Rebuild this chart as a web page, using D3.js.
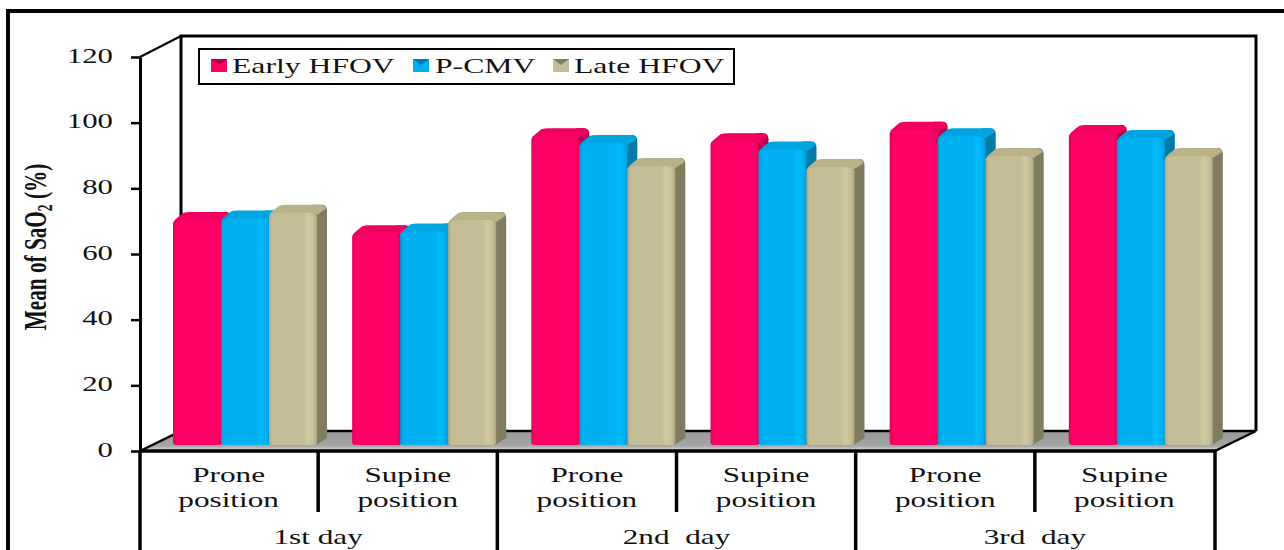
<!DOCTYPE html>
<html>
<head>
<meta charset="utf-8">
<style>
  html, body { margin: 0; padding: 0; background: #fff; }
  svg { display: block; }
  text { font-family: "Liberation Serif", serif; fill: #111; }
</style>
<script src="https://cdn.jsdelivr.net/npm/d3@7"></script>
</head>
<body>
<svg id="chart" width="1284" height="550"></svg>
<script>
// SaO2 means by day, position and ventilation strategy
const days = ["1st day", "2nd  day", "3rd  day"];
const positions = ["Prone position", "Supine position"];
const seriesNames = ["Early HFOV", "P-CMV", "Late HFOV"];
const earlyHFOV = [68.5, 64.5, 94, 92.5, 96, 95];
const pCMV = [69, 65, 92, 90, 94, 93.5];
const lateHFOV = [70.7, 68.5, 85, 84.7, 88, 88];
const yTicks = [0, 20, 40, 60, 80, 100, 120];

const seriesValues = [earlyHFOV, pCMV, lateHFOV];
const colors = [
  { front: "#ff0066", edge: "#e00058", top: "#f00060", side: "#b8004a" },
  { front: "#00b0f0", edge: "#009cd8", top: "#00a4e0", side: "#007ba8" },
  { front: "#c4bd97", edge: "#aea780", top: "#b8b18a", side: "#807c5f" }
];

const svg = d3.select("#chart");
const FX = 1.42; // horizontal stretch applied to the serif labels

const left = 140, right = 1215, floorY = 451, topY = 57;
const depthX = 41, depthY = 20;
const y = d3.scaleLinear().domain([0, 120]).range([floorY, topY]);
const cells = d3.range(6);
const x = d3.scaleBand().domain(cells).range([left - 1, right - 1]);
const barW = 48, barInset = 34, barLift = 6, sideW = 10, sideH = 8;
const xBar = d3.scaleBand().domain(d3.range(3))
  .range([0, barW * 3]);

// Gradients for the bar fronts and the floor
const defs = svg.append("defs");
colors.forEach((c, i) => {
  const g = defs.append("linearGradient").attr("id", "front" + i);
  [[0, c.edge], [0.07, c.front], [0.72, c.front], [0.82, d3.color(c.front).brighter(0.18)],
   [0.93, c.front], [1, c.edge]].forEach(([o, col]) =>
    g.append("stop").attr("offset", o).attr("stop-color", col));
});
const fg = defs.append("linearGradient").attr("id", "floor").attr("x2", 0).attr("y2", 1);
fg.append("stop").attr("offset", 0).attr("stop-color", "#999");
fg.append("stop").attr("offset", 0.75).attr("stop-color", "#a6a6a6");
fg.append("stop").attr("offset", 1).attr("stop-color", "#e4e4e4");

// Outer frame
const black = "#000";
svg.append("path").attr("d", "M8,550V11H1284")
  .attr("fill", "none").attr("stroke", black).attr("stroke-width", 4);

// Floor
svg.append("path")
  .attr("d", d3.line()([[left, floorY], [left + depthX, floorY - depthY],
    [right + depthX, floorY - depthY], [right, floorY]]))
  .attr("fill", "url(#floor)");

// Back wall and side edges
const wall = svg.append("g").attr("fill", "none").attr("stroke", black);
wall.append("path").attr("stroke-width", 3)
  .attr("d", d3.line()([[left + depthX, floorY - depthY], [left + depthX, topY - depthY - 1],
    [right + depthX, topY - depthY - 1], [right + depthX, floorY - depthY]]));
wall.append("path").attr("stroke-width", 2.5)
  .attr("d", d3.line()([[left, floorY], [left + depthX, floorY - depthY],
    [right + depthX, floorY - depthY], [right, floorY]]));
wall.append("path").attr("stroke-width", 2)
  .attr("d", d3.line()([[left, topY], [left + depthX, topY - depthY - 1]]));

// Bars, drawn left to right so each front covers its neighbour's side
const barsG = svg.append("g");
cells.forEach(cell => {
  seriesValues.forEach((vals, s) => {
    const c = colors[s];
    const x0 = x(cell) + barInset + xBar(s);
    const x1 = x0 + barW;
    const base = floorY - barLift;
    const t = y(vals[cell]) - barLift;
    const g = barsG.append("g");
    // side face
    g.append("path").attr("fill", c.side).attr("d",
      `M${x1 - 1},${base}L${x1 + sideW},${base - sideH + 1}L${x1 + sideW},${t - sideH + 6}` +
      `Q${x1 + sideW},${t - sideH + 1} ${x1 + sideW - 4},${t - sideH}L${x1 - 4},${t - sideH}Z`);
    // top face
    g.append("path").attr("fill", c.top).attr("d",
      `M${x0},${t + 3}Q${x0 + 1},${t} ${x0 + 4},${t - 2}L${x0 + 10},${t - sideH + 1}` +
      `Q${x0 + 13},${t - sideH} ${x0 + 17},${t - sideH}L${x1 + 4},${t - sideH}` +
      `Q${x1 + 9},${t - sideH + 1} ${x1 + 9},${t - 4}L${x1},${t + 2}Z`);
    // front face
    g.append("path").attr("fill", `url(#front${s})`).attr("d",
      `M${x0},${t + 3}Q${x0 + 6},${t} ${x0 + 14},${t}L${x1 - 10},${t}Q${x1 - 4},${t} ${x1},${t + 3}` +
      `L${x1},${base - 3}Q${x1},${base} ${x1 - 3},${base}L${x0 + 3},${base}Q${x0},${base} ${x0},${base - 3}Z`);
  });
});

// Value axis
const yAxis = svg.append("g").attr("transform", `translate(${left},0)`)
  .call(d3.axisLeft(y).tickValues(yTicks).tickSize(9).tickSizeOuter(0));
yAxis.select(".domain").attr("stroke", black).attr("stroke-width", 3);
yAxis.selectAll(".tick line").attr("stroke", black).attr("stroke-width", 2.5);
yAxis.selectAll(".tick text")
  .attr("x", 0).attr("dy", null).attr("text-anchor", "end")
  .attr("transform", `translate(-27,5) scale(1.4,1)`)
  .style("font-family", '"Liberation Serif", serif')
  .style("font-size", "22px").attr("fill", "#111");

// Baseline and category table
const table = svg.append("g").attr("stroke", black).attr("fill", "none");
table.append("line").attr("x1", left - 1).attr("x2", right + 1)
  .attr("y1", floorY).attr("y2", floorY).attr("stroke-width", 3.5);
d3.range(7).forEach(i => {
  const xx = i === 6 ? right : (i === 0 ? left : x(i));
  const longRule = i % 2 === 0;
  table.append("line").attr("x1", xx).attr("x2", xx)
    .attr("y1", floorY).attr("y2", longRule ? 550 : 512).attr("stroke-width", 3.5);
});

const labelText = (sel, str, cx, by, size) => sel.append("text")
  .attr("text-anchor", "middle")
  .attr("transform", `translate(${cx},${by}) scale(${FX},1)`)
  .style("font-size", size + "px").text(str);

const catG = svg.append("g");
cells.forEach(cell => {
  const [l1, l2] = positions[cell % 2].split(" ");
  const cx = x(cell) + x.bandwidth() / 2;
  labelText(catG, l1, cx, 482, 22);
  labelText(catG, l2, cx, 507, 22);
});
days.forEach((d, i) => {
  labelText(catG, d, x(i * 2) + x.bandwidth(), 544, 22).style("white-space", "pre");
});

// Legend
const legend = svg.append("g");
legend.append("rect").attr("x", 199).attr("y", 49).attr("width", 535).attr("height", 35)
  .attr("fill", "#fff").attr("stroke", black).attr("stroke-width", 2);
const legendSwatchX = [211, 413, 553];
const legendTextX = [232, 435, 574];
seriesNames.forEach((name, i) => {
  const c = colors[i];
  const sx = legendSwatchX[i];
  legend.append("rect").attr("x", sx).attr("y", 59).attr("width", 16).attr("height", 13).attr("fill", c.front);
  legend.append("path").attr("d", `M${sx},59H${sx + 16}L${sx + 8},65Z`).attr("fill", c.side);
  legend.append("text").attr("text-anchor", "start")
    .attr("transform", `translate(${legendTextX[i]},73) scale(1.44,1)`)
    .style("font-size", "22px").text(name);
});

// Value axis title
const title = svg.append("text").attr("text-anchor", "middle")
  .attr("transform", "translate(46,247) rotate(-90) scale(0.85,1.27)")
  .style("font-size", "25px").style("font-weight", "bold");
title.append("tspan").text("Mean of SaO");
title.append("tspan").attr("dy", 5).style("font-size", "16px").text("2");
title.append("tspan").attr("dy", -5).text(" (%)");
</script>
</body>
</html>
